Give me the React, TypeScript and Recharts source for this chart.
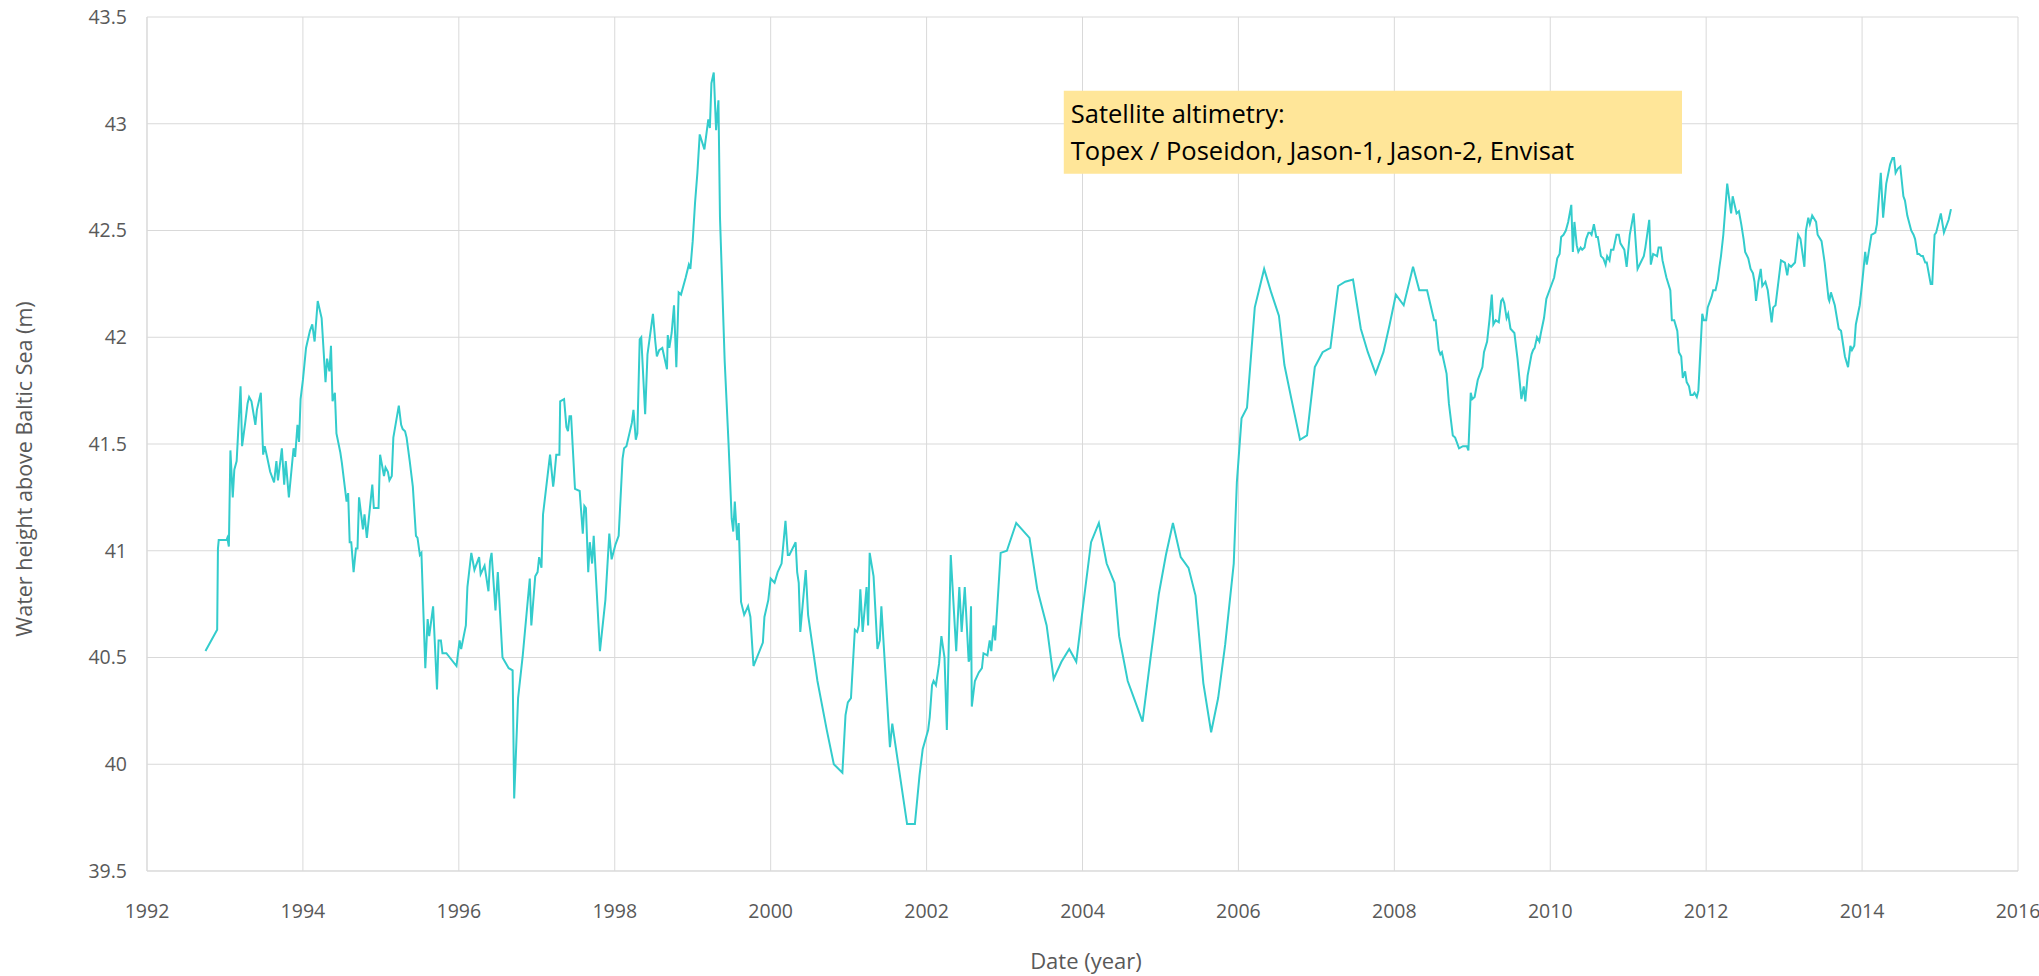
import React from 'react';
import {
  LineChart,
  Line,
  XAxis,
  YAxis,
  CartesianGrid,
  ReferenceArea,
} from 'recharts';

// ---- Data -------------------------------------------------------------
const years: number[] = [
  1992.75, 1992.9, 1992.91, 1992.92, 1993.02, 1993.03, 1993.05, 1993.07, 1993.1, 1993.12,
  1993.15, 1993.2, 1993.22, 1993.26, 1993.29, 1993.31, 1993.34, 1993.39, 1993.41, 1993.46,
  1993.49, 1993.51, 1993.54, 1993.58, 1993.63, 1993.66, 1993.68, 1993.73, 1993.76, 1993.78,
  1993.82, 1993.88, 1993.9, 1993.93, 1993.95, 1993.97, 1994.0, 1994.04, 1994.09, 1994.12,
  1994.15, 1994.19, 1994.24, 1994.29, 1994.31, 1994.34, 1994.36, 1994.38, 1994.41, 1994.43,
  1994.48, 1994.5, 1994.56, 1994.58, 1994.6, 1994.62, 1994.65, 1994.68, 1994.7, 1994.72,
  1994.77, 1994.79, 1994.82, 1994.89, 1994.91, 1994.97, 1994.99, 1995.04, 1995.06, 1995.09,
  1995.11, 1995.14, 1995.16, 1995.23, 1995.26, 1995.28, 1995.31, 1995.33, 1995.37, 1995.41,
  1995.45, 1995.47, 1995.5, 1995.52, 1995.57, 1995.6, 1995.62, 1995.67, 1995.72, 1995.74,
  1995.77, 1995.79, 1995.84, 1995.97, 1996.01, 1996.03, 1996.09, 1996.11, 1996.16, 1996.2,
  1996.26, 1996.28, 1996.33, 1996.38, 1996.4, 1996.42, 1996.47, 1996.5, 1996.56, 1996.64,
  1996.69, 1996.71, 1996.76, 1996.82, 1996.91, 1996.93, 1996.98, 1997.01, 1997.03, 1997.06,
  1997.08, 1997.17, 1997.21, 1997.22, 1997.25, 1997.29, 1997.3, 1997.35, 1997.38, 1997.4,
  1997.42, 1997.44, 1997.49, 1997.55, 1997.59, 1997.61, 1997.63, 1997.66, 1997.68, 1997.71,
  1997.73, 1997.81, 1997.88, 1997.93, 1997.96, 1998.01, 1998.05,
  1998.1, 1998.12, 1998.15, 1998.22, 1998.24, 1998.27, 1998.29, 1998.32, 1998.34, 1998.39,
  1998.42, 1998.49, 1998.52, 1998.54, 1998.57, 1998.61, 1998.67, 1998.68, 1998.7, 1998.73,
  1998.76, 1998.79, 1998.82, 1998.85, 1998.91, 1998.95, 1998.97, 1999.0, 1999.03, 1999.06,
  1999.09, 1999.15, 1999.2, 1999.22, 1999.24, 1999.27, 1999.3, 1999.33, 1999.35, 1999.41,
  1999.46,
  1999.5, 1999.52, 1999.54, 1999.57, 1999.59, 1999.62, 1999.66, 1999.71, 1999.74, 1999.78,
  1999.9, 1999.92, 1999.97, 2000.0, 2000.05, 2000.09, 2000.14, 2000.19, 2000.22, 2000.24,
  2000.32, 2000.34, 2000.36, 2000.38, 2000.45, 2000.48, 2000.6, 2000.72, 2000.81, 2000.92,
  2000.96, 2000.99, 2001.03, 2001.08, 2001.11, 2001.13, 2001.15, 2001.18, 2001.23, 2001.25,
  2001.27, 2001.32, 2001.37, 2001.4, 2001.42, 2001.53, 2001.56, 2001.75, 2001.85, 2001.91,
  2001.95, 2002.02, 2002.04, 2002.07, 2002.09, 2002.12, 2002.16, 2002.19, 2002.23, 2002.26,
  2002.31, 2002.38, 2002.42, 2002.45, 2002.49, 2002.54, 2002.55, 2002.57, 2002.58, 2002.62,
  2002.67, 2002.71, 2002.73, 2002.78, 2002.81, 2002.83, 2002.86, 2002.88, 2002.95, 2003.03,
  2003.15, 2003.32, 2003.42,
  2003.54, 2003.63, 2003.73, 2003.83, 2003.92, 2004.01, 2004.11, 2004.21, 2004.31, 2004.41,
  2004.47, 2004.58, 2004.68, 2004.77, 2004.87, 2004.98, 2005.07, 2005.16, 2005.26, 2005.36,
  2005.45, 2005.55, 2005.65, 2005.74, 2005.83, 2005.94, 2005.98, 2006.04, 2006.11, 2006.21,
  2006.33, 2006.42, 2006.52, 2006.59, 2006.68, 2006.79, 2006.88, 2006.98, 2007.08, 2007.18,
  2007.28, 2007.37, 2007.47, 2007.57, 2007.66, 2007.76, 2007.86, 2007.94,
  2008.02, 2008.12, 2008.24, 2008.32, 2008.42, 2008.51, 2008.53, 2008.57, 2008.59, 2008.61,
  2008.67, 2008.7, 2008.75, 2008.78, 2008.83, 2008.88, 2008.93, 2008.95, 2008.98, 2009.0,
  2009.03, 2009.07, 2009.13, 2009.15, 2009.19, 2009.22, 2009.25, 2009.27, 2009.3, 2009.34,
  2009.37, 2009.39, 2009.41, 2009.44, 2009.46, 2009.49, 2009.54, 2009.58, 2009.63, 2009.66,
  2009.68, 2009.71, 2009.76, 2009.78, 2009.8, 2009.83, 2009.86, 2009.88, 2009.92, 2009.95,
  2009.99, 2010.05, 2010.09, 2010.12, 2010.14, 2010.17, 2010.2, 2010.23, 2010.27, 2010.29,
  2010.31, 2010.34, 2010.36, 2010.39, 2010.41, 2010.44, 2010.46, 2010.49, 2010.51, 2010.53,
  2010.56, 2010.59, 2010.61, 2010.65, 2010.68, 2010.71, 2010.73, 2010.76, 2010.78, 2010.81,
  2010.85, 2010.88, 2010.9, 2010.95, 2010.98, 2011.02, 2011.07, 2011.12, 2011.16, 2011.2,
  2011.22, 2011.27, 2011.29, 2011.32, 2011.37, 2011.39, 2011.42, 2011.44, 2011.49, 2011.54,
  2011.56, 2011.59, 2011.63, 2011.65, 2011.68, 2011.7, 2011.73, 2011.75, 2011.78, 2011.8,
  2011.83, 2011.85, 2011.88, 2011.9, 2011.95, 2011.97, 2012.0, 2012.02, 2012.07, 2012.09,
  2012.12, 2012.15, 2012.17, 2012.19, 2012.22, 2012.27, 2012.32, 2012.34, 2012.39, 2012.42,
  2012.45,
  2012.48, 2012.5, 2012.54, 2012.57, 2012.6, 2012.62, 2012.64, 2012.67, 2012.7, 2012.72,
  2012.76, 2012.79, 2012.84, 2012.86, 2012.89, 2012.96, 2013.01, 2013.04, 2013.06, 2013.09,
  2013.14, 2013.18, 2013.21, 2013.26, 2013.28, 2013.31, 2013.33, 2013.36, 2013.41, 2013.43,
  2013.48, 2013.52, 2013.57, 2013.58, 2013.6, 2013.65, 2013.7, 2013.73, 2013.78, 2013.82,
  2013.85, 2013.87, 2013.9, 2013.92, 2013.97, 2014.0, 2014.04, 2014.06, 2014.12, 2014.17,
  2014.19, 2014.24, 2014.27, 2014.31, 2014.36, 2014.39, 2014.41, 2014.43, 2014.46, 2014.49,
  2014.53, 2014.55, 2014.58, 2014.63, 2014.66, 2014.68, 2014.71, 2014.73, 2014.76, 2014.78,
  2014.81, 2014.83, 2014.88, 2014.9, 2014.93, 2014.95, 2015.01, 2015.05, 2015.11, 2015.14,
];

const heights: number[] = [
  40.53, 40.63, 41.01, 41.05, 41.05, 41.06, 41.02, 41.47, 41.25, 41.38,
  41.42, 41.77, 41.49, 41.6, 41.69, 41.72, 41.7, 41.59, 41.66, 41.74,
  41.45, 41.49, 41.44, 41.37, 41.32, 41.42, 41.33, 41.48, 41.31, 41.42,
  41.25, 41.48, 41.44, 41.59, 41.51, 41.71, 41.8, 41.95, 42.03, 42.06,
  41.98, 42.17, 42.09, 41.79, 41.9, 41.84, 41.96, 41.7, 41.74, 41.55,
  41.46, 41.41, 41.23, 41.27, 41.04, 41.04, 40.9, 41.01, 41.01, 41.25,
  41.1, 41.17, 41.06, 41.31, 41.2, 41.2, 41.45, 41.35, 41.39, 41.37,
  41.33, 41.35, 41.53, 41.68, 41.59, 41.57, 41.56, 41.53, 41.42, 41.3,
  41.07, 41.06, 40.98, 40.99, 40.45, 40.68, 40.6, 40.74, 40.35, 40.58,
  40.58, 40.52, 40.52, 40.46, 40.58, 40.54, 40.65, 40.83, 40.99, 40.91,
  40.97, 40.89, 40.93, 40.81, 40.95, 40.99, 40.72, 40.9, 40.5, 40.45,
  40.44, 39.84, 40.31, 40.51, 40.87, 40.65, 40.88, 40.9, 40.97, 40.92,
  41.17, 41.45, 41.3, 41.33, 41.45, 41.45, 41.7, 41.71, 41.58, 41.56,
  41.63, 41.63, 41.29, 41.28, 41.08, 41.21, 41.2, 40.9, 41.04, 40.94,
  41.07, 40.53, 40.77, 41.08, 40.96, 41.03, 41.07,
  41.43, 41.48, 41.49, 41.6, 41.66, 41.52, 41.55, 41.99, 42.0, 41.64,
  41.92, 42.11, 41.98, 41.91, 41.94, 41.95, 41.85, 42.01, 41.95, 42.02,
  42.15, 41.86, 42.21, 42.2, 42.28, 42.34, 42.32, 42.45, 42.63, 42.77,
  42.95, 42.88, 43.02, 42.98, 43.19, 43.24, 42.97, 43.11, 42.56, 41.89,
  41.5,
  41.15, 41.09, 41.23, 41.05, 41.13, 40.76, 40.7, 40.74, 40.69, 40.46,
  40.57, 40.69, 40.77, 40.87, 40.85, 40.9, 40.94, 41.14, 40.98, 40.98,
  41.04, 40.9, 40.85, 40.62, 40.91, 40.7, 40.39, 40.16, 40.0, 39.96,
  40.23, 40.29, 40.31, 40.63, 40.62, 40.65, 40.82, 40.62, 40.83, 40.65,
  40.99, 40.88, 40.54, 40.58, 40.74, 40.08, 40.19, 39.72, 39.72, 39.95,
  40.07, 40.16, 40.22, 40.37, 40.39, 40.37, 40.47, 40.6, 40.5, 40.16,
  40.98, 40.53, 40.83, 40.62, 40.83, 40.48, 40.49, 40.74, 40.27, 40.39,
  40.43, 40.45, 40.52, 40.51, 40.58, 40.53, 40.65, 40.58, 40.99, 41.0,
  41.13, 41.06, 40.82,
  40.65, 40.4, 40.48, 40.54, 40.48, 40.75, 41.04, 41.13, 40.94, 40.85,
  40.6, 40.39, 40.29, 40.2, 40.49, 40.8, 40.98, 41.13, 40.97, 40.92,
  40.79, 40.38, 40.15, 40.31, 40.56, 40.94, 41.32, 41.62, 41.67, 42.14,
  42.32, 42.21, 42.1, 41.87, 41.71, 41.52, 41.54, 41.86, 41.93, 41.95,
  42.24, 42.26, 42.27, 42.04, 41.93, 41.83, 41.93, 42.06,
  42.2, 42.15, 42.33, 42.22, 42.22, 42.08, 42.08, 41.94, 41.92, 41.93,
  41.83, 41.69, 41.54, 41.53, 41.48, 41.49, 41.49, 41.47, 41.74, 41.71,
  41.72, 41.8, 41.86, 41.93, 41.98, 42.08, 42.2, 42.06, 42.08, 42.07,
  42.17, 42.18, 42.16, 42.09, 42.11, 42.04, 42.02, 41.9, 41.71, 41.77,
  41.7, 41.82, 41.92, 41.94, 41.95, 42.0, 41.98, 42.02, 42.09, 42.18,
  42.22, 42.28, 42.37, 42.39, 42.47, 42.48, 42.5, 42.54, 42.62, 42.4,
  42.54, 42.43, 42.4, 42.42, 42.41, 42.42, 42.46, 42.49, 42.49, 42.48,
  42.53, 42.47, 42.47, 42.38, 42.37, 42.34, 42.38, 42.36, 42.41, 42.41,
  42.48, 42.48, 42.44, 42.41, 42.33, 42.48, 42.58, 42.32, 42.35, 42.38,
  42.42, 42.55, 42.34, 42.39, 42.38, 42.42, 42.42, 42.36, 42.28, 42.22,
  42.08, 42.08, 42.03, 41.93, 41.91, 41.81, 41.84, 41.79, 41.77, 41.73,
  41.73, 41.74, 41.72, 41.75, 42.11, 42.08, 42.08, 42.14, 42.19, 42.22,
  42.22, 42.27, 42.33, 42.38, 42.48, 42.72, 42.58, 42.66, 42.58, 42.59,
  42.53,
  42.46, 42.4, 42.37, 42.32, 42.3, 42.26, 42.17, 42.26, 42.32, 42.24,
  42.26, 42.22, 42.07, 42.14, 42.15, 42.36, 42.35, 42.29, 42.34, 42.33,
  42.35, 42.48, 42.46, 42.33, 42.5, 42.56, 42.53, 42.57, 42.54, 42.48,
  42.45, 42.35, 42.18, 42.17, 42.21, 42.15, 42.04, 42.03, 41.91, 41.86,
  41.96, 41.94, 41.96, 42.06, 42.15, 42.25, 42.4, 42.34, 42.48, 42.49,
  42.53, 42.77, 42.56, 42.72, 42.81, 42.84, 42.84, 42.77, 42.79, 42.8,
  42.66, 42.64, 42.57, 42.5, 42.48, 42.46, 42.39, 42.39, 42.38, 42.38,
  42.35, 42.35, 42.25, 42.25, 42.48, 42.49, 42.58, 42.49, 42.55, 42.6,
];

const xTicks: number[] = [1992, 1994, 1996, 1998, 2000, 2002, 2004, 2006, 2008, 2010, 2012, 2014, 2016];
const yTicks: number[] = [39.5, 40, 40.5, 41, 41.5, 42, 42.5, 43, 43.5];

const annotationLines: string[] = [
  'Satellite altimetry:',
  'Topex / Poseidon, Jason-1, Jason-2, Envisat',
];
// annotation box extent in data units
const annotationX: [number, number] = [2003.76, 2011.69];
const annotationY: [number, number] = [42.766, 43.155];

const data = years.map((year, i) => ({ year, height: heights[i] }));

// ---- Styles -----------------------------------------------------------
const FONT = '"Open Sans", "Liberation Sans", sans-serif';
const AXIS_TEXT = '#595959';
const GRID = '#d9d9d9';
const LINE = '#33cccc';

const AnnotationLabel = (props: any) => {
  const vb = props.viewBox || {};
  const x = vb.x ?? 0;
  const y = vb.y ?? 0;
  return (
    <g>
      {annotationLines.map((t, i) => (
        <text
          key={i}
          x={x + 7}
          y={y + 32 + i * 37}
          fontFamily={FONT}
          fontSize={25.5}
          fill="#000000"
        >
          {t}
        </text>
      ))}
    </g>
  );
};

export default function App() {
  return (
    <div style={{ position: 'absolute', left: 0, top: 0, width: 2039, height: 976, background: '#fff' }}>
      <LineChart
        width={2039}
        height={976}
        data={data}
        margin={{ top: 17, right: 21, left: 67, bottom: 45 }}
      >
        <CartesianGrid stroke={GRID} strokeWidth={1} horizontal vertical />
        <XAxis
          type="number"
          dataKey="year"
          domain={[1992, 2016]}
          ticks={xTicks}
          interval={0}
          allowDecimals={false}
          height={60}
          tickSize={0}
          tickMargin={33}
          axisLine={{ stroke: GRID }}
          tickLine={false}
          tick={{ fill: AXIS_TEXT, fontSize: 19.5, fontFamily: FONT }}
          label={{
            content: () => (
              <text
                x={1086}
                y={969}
                textAnchor="middle"
                fontFamily={FONT}
                fontSize={22}
                fill={AXIS_TEXT}
              >
                Date (year)
              </text>
            ),
          }}
        />
        <YAxis
          type="number"
          domain={[39.5, 43.5]}
          ticks={yTicks}
          interval={0}
          width={80}
          tickSize={0}
          tickMargin={20}
          axisLine={{ stroke: GRID }}
          tickLine={false}
          tick={{ fill: AXIS_TEXT, fontSize: 19.5, fontFamily: FONT }}
          label={{
            content: () => (
              <text
                x={0}
                y={0}
                transform="translate(32, 469) rotate(-90)"
                textAnchor="middle"
                fontFamily={FONT}
                fontSize={21.5}
                fill={AXIS_TEXT}
              >
                Water height above Baltic Sea (m)
              </text>
            ),
          }}
        />
        <ReferenceArea
          x1={annotationX[0]}
          x2={annotationX[1]}
          y1={annotationY[0]}
          y2={annotationY[1]}
          fill="#ffe699"
          fillOpacity={1}
          stroke="none"
          label={(p: any) => <AnnotationLabel {...p} />}
        />
        <Line
          type="linear"
          dataKey="height"
          stroke={LINE}
          strokeWidth={2}
          dot={false}
          activeDot={false}
          isAnimationActive={false}
        />
      </LineChart>
    </div>
  );
}
